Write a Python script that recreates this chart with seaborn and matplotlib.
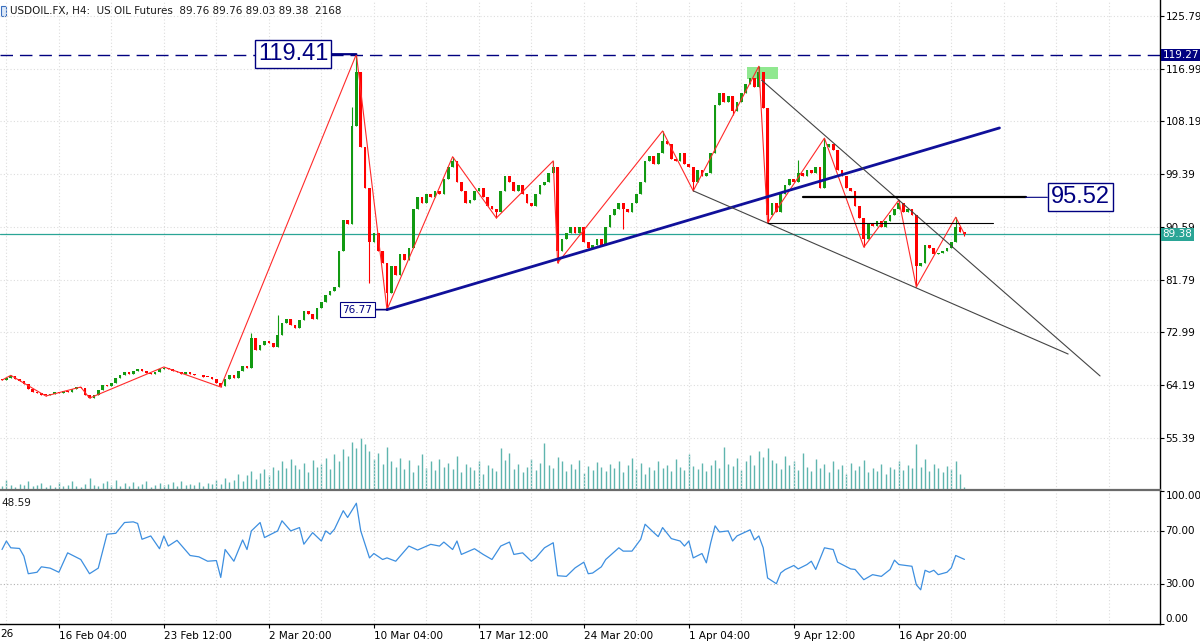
import numpy as np
import pandas as pd
import matplotlib
matplotlib.use("Agg")
import matplotlib.pyplot as plt
import seaborn as sns
from matplotlib.patches import Rectangle
from matplotlib.transforms import blended_transform_factory

# ---- data (one H4 bar per entry) ----
close = [
    65.0, 65.4, 65.7, 65.2, 64.8, 64.3, 63.5, 63.0, 62.8, 62.6,
    62.5, 62.7, 63.0, 62.9, 63.2, 63.1, 63.6, 63.9, 63.7, 62.6,
    62.1, 62.6, 63.3, 64.2, 64.0, 64.6, 65.3, 65.8, 66.3, 66.1,
    66.6, 66.8, 66.5, 66.2, 66.0, 66.4, 66.8, 67.1, 66.9, 66.6,
    66.4, 66.0, 66.3, 66.0, 65.8, 65.9, 65.6, 65.5, 65.2, 64.6,
    64.1, 65.2, 65.8, 65.4, 66.5, 67.4, 67.0, 72.0, 70.0, 70.8,
    71.5, 71.2, 70.5, 72.5, 74.5, 75.2, 74.2, 73.7, 75.0, 76.5,
    76.0, 75.2, 77.0, 78.0, 79.2, 79.8, 80.6, 86.5, 91.8, 91.0,
    107.5, 116.5, 104.0, 97.0, 88.0, 89.5, 86.5, 84.5, 79.5, 84.0,
    82.5, 86.0, 85.0, 87.0, 93.5, 95.5, 94.5, 96.0, 95.5, 96.5,
    96.0, 98.5, 100.5, 101.5, 98.0, 96.5, 94.5, 95.0, 96.5, 97.0,
    95.5, 94.0, 93.5, 93.0, 96.5, 99.0, 98.0, 96.5, 97.5, 96.0,
    94.5, 94.0, 96.0, 97.5, 98.0, 99.5, 100.5, 86.5, 88.5, 89.5,
    90.5, 89.5, 90.5, 88.0, 87.0, 87.5, 88.5, 87.5, 90.5, 92.5,
    93.5, 94.5, 93.5, 93.0, 94.5, 96.0, 98.0, 101.5, 102.5, 101.0,
    103.0, 105.0, 104.5, 102.0, 101.5, 103.0, 101.0, 100.5, 98.0, 100.0,
    99.0, 99.5, 103.0, 111.0, 113.0, 111.5, 112.5, 110.0, 111.5, 113.0,
    114.5, 115.5, 114.0, 116.5, 110.5, 92.5, 94.5, 93.0, 96.0, 97.5,
    98.5, 98.0, 99.5, 99.0, 100.0, 99.5, 100.5, 97.0, 104.0, 104.5,
    103.5, 100.0, 99.0, 97.0, 96.5, 94.0, 92.0, 88.5, 91.0, 90.8,
    91.5, 90.6, 91.5, 92.5, 93.5, 94.5, 93.0, 93.5, 92.5, 84.0,
    84.5, 87.5, 87.0, 86.0, 86.2, 86.5, 87.0, 88.0, 90.5, 89.76,
    89.38,
]
first_open = 65.2

volume = [
    8, 20, 10, 6, 12, 9, 18, 7, 10, 14,
    6, 9, 5, 16, 8, 10, 18, 7, 5, 12,
    24, 9, 7, 14, 18, 10, 20, 8, 13, 7,
    16, 8, 11, 18, 6, 10, 14, 9, 12, 16,
    8, 18, 10, 12, 9, 16, 7, 14, 11, 20,
    12, 24, 15, 20, 30, 18, 28, 36, 22, 32,
    40, 28, 45, 38, 55, 42, 60, 48, 40, 52,
    35, 58, 44, 50, 62, 40, 70, 55, 78, 65,
    92, 80, 100, 88, 75, 60, 72, 50, 82, 56,
    45, 62, 40, 58, 35, 48, 70, 42, 55, 38,
    60, 45, 52, 40, 66, 35, 50, 44, 38, 55,
    30, 48, 42, 36, 80, 58, 72, 40, 50, 34,
    45, 60, 38, 52, 90, 48, 42, 64, 55, 36,
    50, 40, 58, 32, 46, 38, 54, 44, 36, 50,
    42, 55, 35, 48, 62, 40, 52, 30, 45, 38,
    56, 42, 48, 36, 60, 44, 38, 70, 46, 40,
    52, 36, 48, 58, 42, 82, 50, 46, 62, 38,
    55, 68, 48, 75, 64, 80, 58, 52, 40, 66,
    48, 56, 38, 72, 44, 36, 60, 42, 50, 34,
    56, 40, 48, 30, 52, 38, 46, 58, 34, 42,
    36, 50, 30, 44, 40, 56, 38, 48, 42, 88,
    45, 60, 36, 50, 42, 34, 46, 40, 55, 30,
    6,
]

# long wicks that stick out of the bodies
hi_bar = [2, 18, 37, 57, 63, 80, 81, 103, 126, 151, 173, 182, 188, 205, 218, 220]
hi_val = [65.9, 63.9, 67.2, 72.8, 75.8, 110.6, 119.41, 102.3, 101.6, 106.6, 117.4, 101.8, 105.4, 95.07, 92.2, 89.76]
lo_bar = [10, 20, 50, 84, 88, 113, 127, 142, 158, 167, 175, 197, 209, 220]
lo_val = [62.35, 62.0, 63.85, 81.2, 76.77, 92.07, 84.55, 90.2, 96.6, 109.3, 91.2, 87.2, 80.55, 89.03]

# zigzag pivots
zz_bar = [0, 2, 10, 18, 20, 37, 50, 81, 88, 103, 113, 126, 127, 151, 158, 173, 175, 188, 197, 205, 209, 218, 220]
zz_price = [65.0, 65.8, 62.35, 63.85, 62.0, 67.2, 63.85, 119.41, 76.77, 102.3, 92.07, 101.6, 84.55,
            106.6, 96.6, 117.4, 91.2, 105.4, 87.2, 95.07, 80.55, 92.2, 89.38]

# RSI
rsi_bar = [0, 1, 2, 4, 5, 6, 8, 9, 11, 13, 15, 18, 20, 22, 24, 26, 28, 30, 31, 32,
           34, 36, 37, 38, 40, 43, 45, 47, 49, 50, 51, 53, 55, 56, 57, 59, 60, 63, 64, 66,
           68, 69, 71, 73, 74, 75, 76, 78, 79, 81, 82, 84, 85, 87, 88, 90, 91, 93, 95, 98,
           100, 101, 103, 104, 105, 108, 110, 112, 114, 116, 117, 119, 121, 122, 124, 126, 127, 129, 131, 133,
           134, 135, 137, 138, 141, 142, 144, 146, 147, 149, 150, 151, 153, 155, 156, 157, 158, 160, 161, 162,
           163, 164, 166, 167, 168, 171, 172, 173, 174, 175, 177, 178, 179, 181, 182, 184, 185, 186, 188, 190,
           191, 194, 195, 197, 199, 201, 203, 204, 205, 208, 209, 210, 211, 212, 213, 214, 216, 217, 218, 220]
rsi_val = [56, 62.4, 57.3, 56.8, 51, 37.8, 38.9, 43, 42, 38.9, 53.5, 48.5, 37.8, 42, 67.5, 68.2, 76.3, 76.8, 75.6, 63.7,
           66.2, 56.6, 66.2, 58.6, 62.9, 51.5, 50.5, 47.2, 47.7, 35, 56, 47.2, 63.2, 56, 70, 76.3, 65, 70, 77.6, 70,
           72.5, 60, 68.7, 62.4, 70, 67.5, 71.3, 85.2, 80.1, 90.8, 70, 49.7, 53, 48.5, 49.7, 47.2, 51, 58.6, 55.6, 59.9,
           58.6, 61.6, 56, 62.4, 52.3, 56.6, 52.3, 48.5, 58.6, 61.6, 52.3, 53.5, 47.2, 49.7, 57.3, 61.1, 36.3, 35.8, 42.2, 46.5,
           37.8, 38.3, 43, 48.5, 57.3, 54.8, 54.8, 63.7, 75, 68.7, 65.7, 72.5, 64.2, 62.4, 58.6, 62.4, 49.7, 53, 46, 61.1,
           73.8, 69.2, 70, 62.4, 66.2, 70.8, 63.2, 66.2, 57.3, 34.6, 30.3, 38.4, 40.9, 44, 41.4, 44.7, 47.2, 41, 57.3, 56,
           46.5, 41.4, 41, 33.3, 37.1, 35.8, 41, 48, 44.7, 43.4, 29.5, 25.7, 40.4, 38.9, 40.4, 37.1, 38.9, 42.2, 51.5, 48.59]

# drawn objects on the chart
trend_bar = [88, 228]
trend_price = [76.77, 107.1]
chan_hi_bar = [173.6, 251]
chan_hi_price = [115.1, 65.7]
chan_lo_bar = [158, 243.7]
chan_lo_price = [96.6, 69.36]
level_9552_bar = [183, 234]
level_912_bar = [175, 226.5]
high_line = 119.27
last_price = 89.38

tick_bars = [13, 37, 61, 85, 109, 133, 157, 181, 205]
tick_labels = ["16 Feb 04:00", "23 Feb 12:00", "2 Mar 20:00", "10 Mar 04:00", "17 Mar 12:00",
               "24 Mar 20:00", "1 Apr 04:00", "9 Apr 12:00", "16 Apr 20:00"]
price_ticks = [125.79, 116.99, 108.19, 99.39, 90.59, 81.79, 72.99, 64.19, 55.39]

# ---- build frame ----
df = pd.DataFrame({"close": close, "vol": volume})
df["bar"] = np.arange(len(df))
df["open"] = df["close"].shift(1).fillna(first_open)
df["high"] = df[["open", "close"]].max(axis=1)
df["low"] = df[["open", "close"]].min(axis=1)
df.loc[hi_bar, "high"] = np.maximum(df.loc[hi_bar, "high"].values, hi_val)
df.loc[lo_bar, "low"] = np.minimum(df.loc[lo_bar, "low"].values, lo_val)
up = df["close"] >= df["open"]
ccol = np.where(up, "#129a12", "#ff0000")

sns.set_theme(style="white")
plt.rcParams["font.family"] = ["DejaVu Sans"]

NAVY = "#000080"
TEAL = "#2aa596"
GRID = "#dddddd"
DOT = (0, (1, 2))

fig = plt.figure(figsize=(12, 6.42), dpi=100)
fig.patch.set_facecolor("white")
rect_main = [0, 152 / 642, 1160 / 1200, 490 / 642]
vax = fig.add_axes(rect_main)
ax = fig.add_axes(rect_main, sharex=vax)
rax = fig.add_axes([0, 18 / 642, 1160 / 1200, 133 / 642], sharex=vax)
vax.set_zorder(1)
ax.set_zorder(2)
ax.patch.set_visible(False)

xmin, xmax = -0.46, 264.7
ax.set_xlim(xmin, xmax)
ax.set_ylim(46.66, 128.46)

# volume (behind everything)
vax.vlines(df["bar"], 0, df["vol"], color="#5fb5ae", lw=1.0)
vax.set_ylim(0, 942)
vax.axis("off")

# grid
for p in price_ticks:
    ax.axhline(p, color=GRID, lw=0.8, ls=DOT, zorder=0)
for b in range(1, 265, 12):
    ax.axvline(b, color=GRID, lw=0.8, ls=DOT, zorder=0)
    rax.axvline(b, color=GRID, lw=0.8, ls=DOT, zorder=0)

# green box at the top
ax.add_patch(Rectangle((170.3, 115.3), 7.1, 2.0, color="#90e890", lw=0, zorder=1))

# candles
ax.vlines(df["bar"], df["low"], df["high"], colors=ccol, lw=0.8, zorder=3)
body = (df["close"] - df["open"]).abs().clip(lower=0.12)
ax.bar(df["bar"], body, bottom=df[["open", "close"]].min(axis=1), width=0.62,
       color=ccol, linewidth=0, zorder=3)

# zigzag
sns.lineplot(x=zz_bar, y=zz_price, ax=ax, color="#ff2a2a", lw=0.8, sort=False, zorder=4)

# horizontal lines
ax.axhline(high_line, color=NAVY, lw=1.0, ls=(0, (9, 5)), zorder=2)
ax.axhline(last_price, color=TEAL, lw=0.9, zorder=2)

# trend lines
ax.plot(trend_bar, trend_price, color="#10109a", lw=2.0, zorder=5)
ax.plot(chan_hi_bar, chan_hi_price, color="#444444", lw=0.8, zorder=5)
ax.plot(chan_lo_bar, chan_lo_price, color="#444444", lw=0.8, zorder=5)
ax.plot(level_9552_bar, [95.52, 95.52], color="black", lw=1.6, zorder=5)
ax.plot(level_912_bar, [91.2, 91.2], color="black", lw=0.8, zorder=5)

# labels with boxes
box_font = ["Liberation Sans", "DejaVu Sans"]
ax.annotate("119.41", xy=(81, 119.41), xytext=(-28, 0), textcoords="offset pixels",
            ha="right", va="center", fontsize=17, color=NAVY, family=box_font, zorder=6,
            bbox=dict(boxstyle="square,pad=0.12", fc="white", ec=NAVY, lw=1.0),
            arrowprops=dict(arrowstyle="-", color=NAVY, lw=1.6, shrinkA=0, shrinkB=0))
ax.annotate("95.52", xy=(level_9552_bar[1], 95.52), xytext=(25, 0), textcoords="offset pixels",
            ha="left", va="center", fontsize=17, color=NAVY, family=box_font, zorder=6,
            bbox=dict(boxstyle="square,pad=0.12", fc="white", ec=NAVY, lw=1.0),
            arrowprops=dict(arrowstyle="-", color=NAVY, lw=0.8, shrinkA=0, shrinkB=0))
ax.annotate("76.77", xy=(88, 76.77), xytext=(-15, 0), textcoords="offset pixels",
            ha="right", va="center", fontsize=7.5, color=NAVY, zorder=6,
            bbox=dict(boxstyle="square,pad=0.25", fc="white", ec=NAVY, lw=0.8),
            arrowprops=dict(arrowstyle="-", color=NAVY, lw=1.2, shrinkA=0, shrinkB=0))

# right axis
ax.yaxis.tick_right()
ax.set_yticks(price_ticks, [f"{p:.2f}" for p in price_ticks])
ax.tick_params(axis="y", right=True, length=3, width=0.8, pad=1, labelsize=7.5,
               colors="black", direction="out")
ax.tick_params(axis="x", bottom=False, labelbottom=False)
trans = blended_transform_factory(ax.transAxes, ax.transData)
ax.text(1.002, high_line, "119.27", transform=trans, ha="left", va="center", fontsize=7.5,
        color="white", zorder=10, clip_on=False,
        bbox=dict(boxstyle="square,pad=0.12", fc=NAVY, ec="none"))
ax.text(1.002, last_price, "89.38", transform=trans, ha="left", va="center", fontsize=7.5,
        color="white", zorder=10, clip_on=False,
        bbox=dict(boxstyle="square,pad=0.15", fc=TEAL, ec="none"))
for side in ["left", "top"]:
    ax.spines[side].set_visible(False)
ax.spines["right"].set_color("black")
ax.spines["right"].set_linewidth(1.0)
ax.spines["bottom"].set_color("#6a6a6a")
ax.spines["bottom"].set_linewidth(1.6)
ax.set_xlabel("")
ax.set_ylabel("")

# RSI panel
rax.set_ylim(0, 100)
for lvl in [70, 30]:
    rax.axhline(lvl, color="#b0b0b0", lw=0.8, ls=DOT, zorder=0)
sns.lineplot(x=rsi_bar, y=rsi_val, ax=rax, color="#3d8fe0", lw=0.9)
rax.yaxis.tick_right()
rax.set_yticks([100, 70, 30, 0], ["100.00", "70.00", "30.00", "0.00"])
rax.tick_params(axis="y", right=True, length=3, width=0.8, pad=1, labelsize=7.5, colors="black")
for lbl, va in zip(rax.get_yticklabels(), ["top", "center", "center", "bottom"]):
    lbl.set_va(va)
rax.set_xticks(tick_bars, tick_labels)
rax.tick_params(axis="x", bottom=True, length=3, width=0.8, pad=2, labelsize=7.5, colors="black")
for lbl in rax.get_xticklabels():
    lbl.set_ha("left")
for side in ["left", "top"]:
    rax.spines[side].set_visible(False)
rax.spines["right"].set_color("black")
rax.spines["bottom"].set_color("black")
rax.spines["right"].set_linewidth(1.0)
rax.spines["bottom"].set_linewidth(1.0)
rax.set_xlabel("")
rax.set_ylabel("")
rax.set_xlim(xmin, xmax)

# header and small texts
fig.text(10 / 1200, 1 - 11 / 642, "USDOIL.FX, H4:  US OIL Futures  89.76 89.76 89.03 89.38  2168",
         fontsize=7.5, color="#1a1a1a", va="center", ha="left")
fig.patches.append(Rectangle((0.5 / 1200, 1 - 16 / 642), 5 / 1200, 10 / 642, transform=fig.transFigure,
                             fc="#dce8f8", ec="#3a6fc0", lw=0.8))
fig.text(1 / 1200, 1 - 503 / 642, "48.59", fontsize=7.5, color="#1a1a1a", va="center", ha="left")
fig.text(0, 1 - 634 / 642, "26", fontsize=7.5, color="black", va="center", ha="left")

fig.savefig("out.png", dpi=100, facecolor="white")
